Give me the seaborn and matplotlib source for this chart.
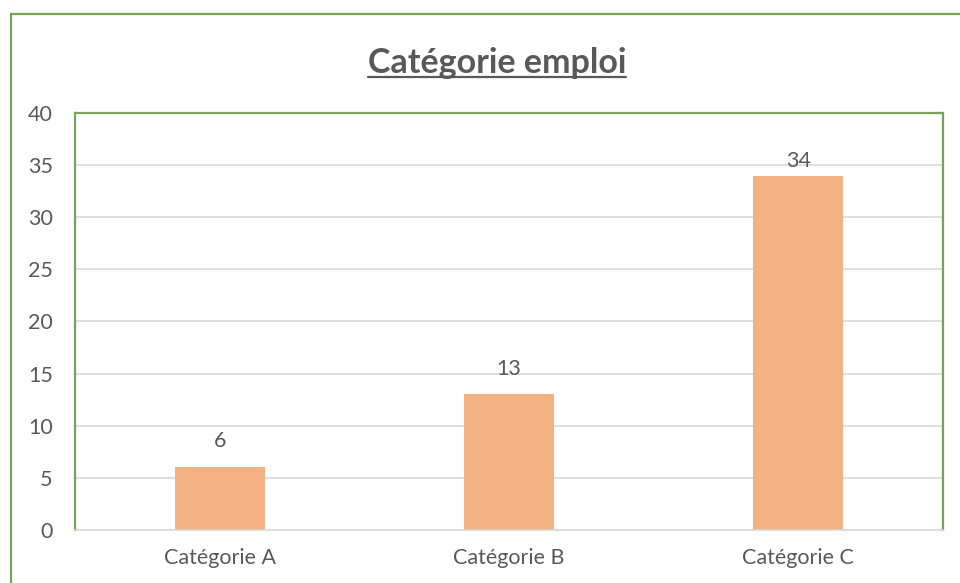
#!/usr/bin/env python3

import matplotlib as mpl
mpl.use("Agg")
from matplotlib import pyplot as plt
from matplotlib.lines import Line2D
import seaborn as sns
import pandas as pd

sns.set_theme(style="whitegrid")
plt.rcParams['font.family'] = ['Lato', 'DejaVu Sans']

categories = ['Catégorie A', 'Catégorie B', 'Catégorie C']
values = [6, 13, 34]
label_pad = [11.5, 11.5, 3]   # points above the bar top, as placed in the original
title = 'Catégorie emploi'

df = pd.DataFrame({'cat': categories, 'val': values})

green = '#77A35A'
text_col = '#595959'
grid_col = '#D9D9D9'

fig = plt.figure(figsize=(9.6, 5.83), dpi=100)
ax = fig.add_axes([75/960, 53/583, 868/960, 417/583])

sns.barplot(data=df, x='cat', y='val', color='#F4B183', saturation=1, width=0.31,
            linewidth=0, ax=ax)

ax.set_ylim(0, 40)
ax.set_yticks(range(0, 41, 5))
ax.set_xlabel('')
ax.set_ylabel('')
ax.grid(axis='y', color=grid_col, linewidth=1.2)
ax.grid(axis='x', visible=False)
ax.set_axisbelow(True)
ax.tick_params(axis='y', length=0, pad=16, labelsize=15.5, labelcolor=text_col)
ax.tick_params(axis='x', length=0, pad=13, labelsize=15.5, labelcolor=text_col)

for side in ['top', 'left', 'right']:
    ax.spines[side].set_color(green)
    ax.spines[side].set_linewidth(1.6)
ax.spines['bottom'].set_color(grid_col)
ax.spines['bottom'].set_linewidth(1.2)

for i, (v, p) in enumerate(zip(values, label_pad)):
    ax.annotate(str(v), (i, v), xytext=(0, p), textcoords='offset points',
                ha='center', va='bottom', fontsize=15.5, color=text_col)

# title with underline
t = fig.text(497/960, 1 - 63/583, title, ha='center', va='center',
             fontsize=24.5, fontweight='bold', color=text_col)
fig.canvas.draw()
bb = t.get_window_extent().transformed(fig.transFigure.inverted())
fig.add_artist(Line2D([bb.x0, bb.x1], [bb.y0 + 0.004, bb.y0 + 0.004],
                      transform=fig.transFigure, color=text_col, linewidth=1.6))

# outer chart frame (cropped at right and bottom)
fig.add_artist(Line2D([11/960, 1], [1 - 14/583, 1 - 14/583], transform=fig.transFigure,
                      color=green, linewidth=1.6))
fig.add_artist(Line2D([11/960, 11/960], [0, 1 - 14/583], transform=fig.transFigure,
                      color=green, linewidth=1.6))

fig.savefig('out.png', dpi=100)
